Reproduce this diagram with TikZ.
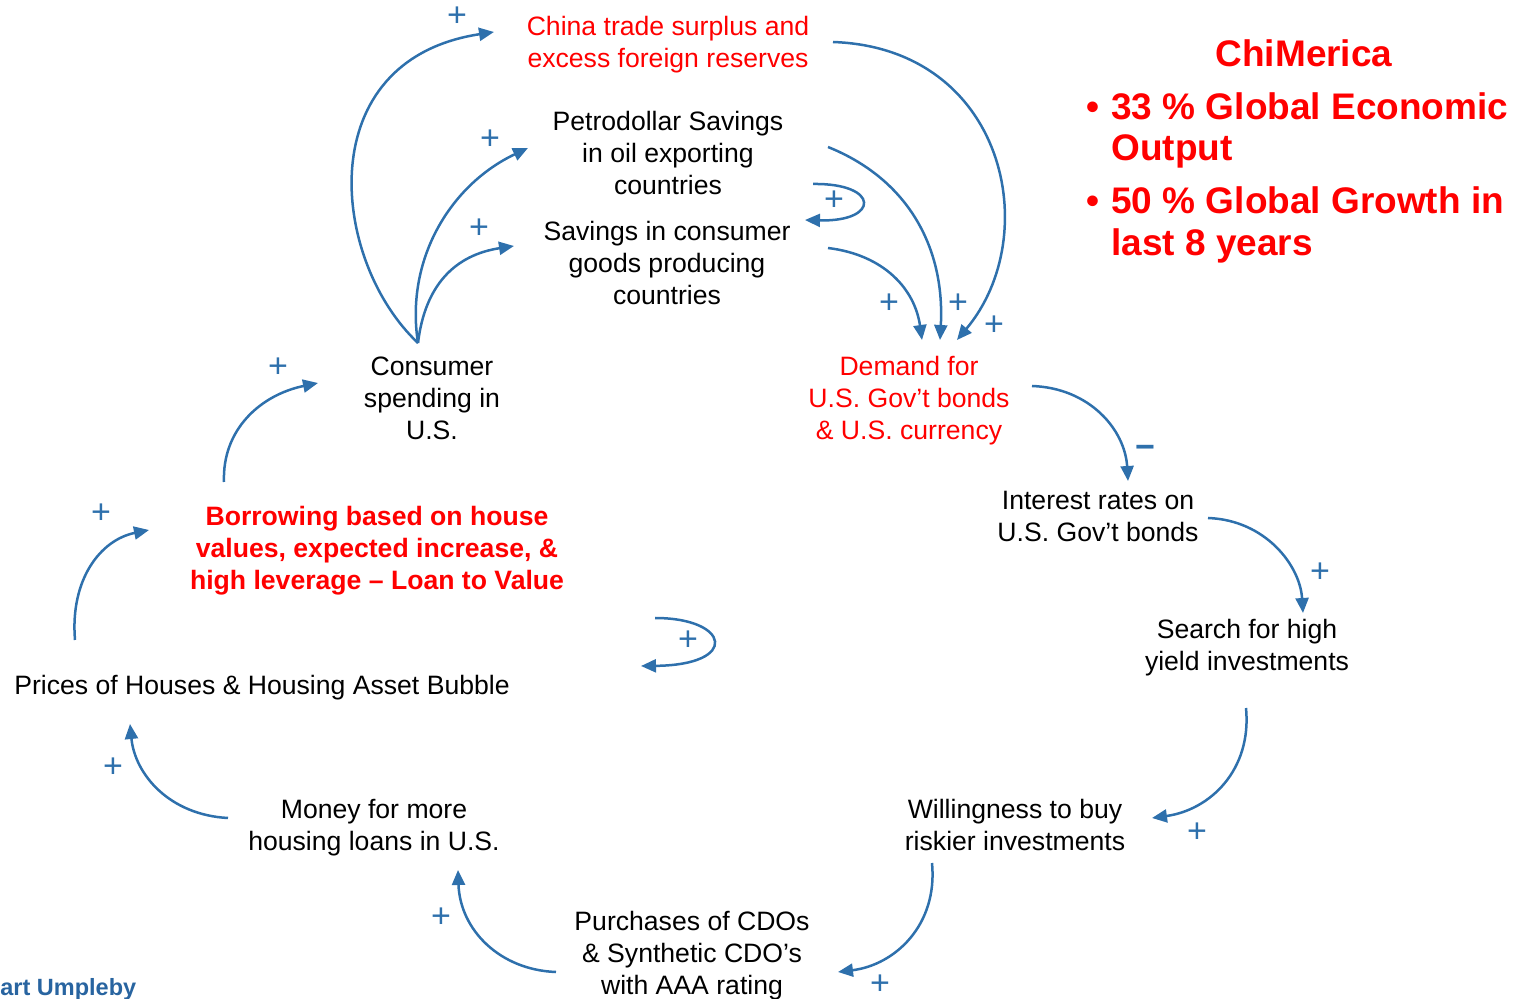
\documentclass[tikz,border=0pt]{standalone}
\usepackage{fontspec}
\setmainfont{Liberation Sans}
\usetikzlibrary{arrows.meta}
\definecolor{linkblue}{RGB}{46,112,172}
\definecolor{hotred}{RGB}{255,0,0}
\definecolor{creditblue}{RGB}{40,100,160}
\begin{document}
\begin{tikzpicture}[x=0.5pt,y=-0.5pt,
  var/.style={align=center,inner sep=0pt,font=\fontsize{13.3}{16}\selectfont},
  keyvar/.style={var,text=hotred},
  boldvar/.style={var,text=hotred,font=\fontsize{13.3}{16}\selectfont\bfseries},
  link/.style={draw=linkblue,line width=1.25pt,-{Triangle[length=7.5pt,width=6.5pt]}},
  pol/.style={text=linkblue,inner sep=0pt,font=\fontsize{17}{18}\selectfont},
  note/.style={text=hotred,inner sep=0pt,anchor=base west,font=\fontsize{18.5}{21}\selectfont\bfseries}]
\useasboundingbox (0,0) rectangle (1521,999);

% variables of the loop
\node[keyvar] (china) at (668,45) {China trade surplus and\\excess foreign reserves};
\node[var] (petro) at (668,153) {Petrodollar Savings\\in oil exporting\\countries};
\node[var] (goods) at (667,263) {Savings in consumer\\goods producing\\countries};
\node[var] (cons) at (432,398) {Consumer\\spending in\\U.S.};
\node[keyvar] (demand) at (909,401) {Demand for\\U.S. Gov't bonds\\\& U.S. currency};
\node[var] (rates) at (1098,516) {Interest rates on\\U.S. Gov't bonds};
\node[var] (search) at (1247,648) {Search for high\\yield investments};
\node[var] (risk) at (1015,825) {Willingness to buy\\riskier investments};
\node[var] (cdo) at (692,956) {Purchases of CDOs\\\& Synthetic CDO's\\with AAA rating};
\node[var] (loans) at (374,828) {Money for more\\housing loans in U.S.};
\node[var] (houses) at (262,688) {Prices of Houses \& Housing Asset Bubble};
\node[boldvar] (borrow) at (377,551) {Borrowing based on house\\values, expected increase, \&\\high leverage -- Loan to Value};

% connector end points
\coordinate (cs-out) at (418,343);
\coordinate (china-in) at (494,32);
\coordinate (petro-in) at (528,148);
\coordinate (goods-in) at (514,246);
\coordinate (petro-out) at (828,147);
\coordinate (goods-out) at (828,248);
\coordinate (china-out) at (833,42);
\coordinate (dem-in1) at (922,340);
\coordinate (dem-in2) at (940,340);
\coordinate (dem-in3) at (957,340);
\coordinate (loopA-out) at (813,184);
\coordinate (loopA-in) at (805,220);
\coordinate (dem-out) at (1032,386);
\coordinate (rates-in) at (1128,481);
\coordinate (rates-out) at (1208,518);
\coordinate (search-in) at (1303,613);
\coordinate (search-out) at (1246,708);
\coordinate (risk-in) at (1152,818);
\coordinate (risk-out) at (932,863);
\coordinate (cdo-in) at (838,972);
\coordinate (cdo-out) at (556,972);
\coordinate (loans-in) at (458,870);
\coordinate (loans-out) at (228,818);
\coordinate (houses-in) at (130,724);
\coordinate (houses-out) at (75,640);
\coordinate (borrow-in) at (149,530);
\coordinate (borrow-out) at (224,482);
\coordinate (cons-in) at (318,383);
\coordinate (loopB-out) at (655,618);
\coordinate (loopB-in) at (641,666);

% causal links
\draw[link] (cs-out) .. controls (330,260) and (310,60) .. (china-in);
\draw[link] (cs-out) .. controls (405,260) and (450,185) .. (petro-in);
\draw[link] (cs-out) .. controls (425,285) and (455,255) .. (goods-in);
\draw[link] (petro-out) .. controls (910,180) and (945,250) .. (dem-in2);
\draw[link] (goods-out) .. controls (885,255) and (915,290) .. (dem-in1);
\draw[link] (china-out) .. controls (1005,48) and (1045,235) .. (dem-in3);
\draw[link] (loopA-out) .. controls (880,183) and (880,222) .. (loopA-in);
\draw[link] (dem-out) .. controls (1090,388) and (1125,430) .. (rates-in);
\draw[link] (rates-out) .. controls (1265,520) and (1300,565) .. (search-in);
\draw[link] (search-out) .. controls (1252,770) and (1210,810) .. (risk-in);
\draw[link] (risk-out) .. controls (938,925) and (895,965) .. (cdo-in);
\draw[link] (cdo-out) .. controls (500,970) and (460,930) .. (loans-in);
\draw[link] (loans-out) .. controls (170,815) and (135,775) .. (houses-in);
\draw[link] (houses-out) .. controls (70,580) and (100,540) .. (borrow-in);
\draw[link] (borrow-out) .. controls (222,430) and (260,395) .. (cons-in);
\draw[link] (loopB-out) .. controls (730,618) and (740,665) .. (loopB-in);

% link polarities
\node[pol] (p1) at (457,17) {+};
\node[pol] (p2) at (490,140) {+};
\node[pol] (p3) at (479,229) {+};
\node[pol] (p4) at (834,201) {+};
\node[pol] (p5) at (889,304) {+};
\node[pol] (p6) at (958,304) {+};
\node[pol] (p7) at (994,326) {+};
\node[pol,font=\fontsize{17}{18}\selectfont\bfseries] (p8) at (1145,452) {−};
\node[pol] (p9) at (1320,573) {+};
\node[pol] (p10) at (1197,833) {+};
\node[pol] (p11) at (880,985) {+};
\node[pol] (p12) at (441,918) {+};
\node[pol] (p13) at (113,768) {+};
\node[pol] (p14) at (101,514) {+};
\node[pol] (p15) at (278,368) {+};
\node[pol] (p16) at (688,641) {+};

% side notes
\node[text=hotred,inner sep=0pt,anchor=base,font=\fontsize{18.5}{21}\selectfont\bfseries] (title) at (1304,67) {ChiMerica};
\node[note] (b1) at (1086,120) {•};
\node[note] (n1) at (1111,120) {33 \% Global Economic};
\node[note] (n1b) at (1111,161) {Output};
\node[note] (b2) at (1086,214) {•};
\node[note] (n2) at (1111,214) {50 \% Global Growth in};
\node[note] (n2b) at (1111,256) {last 8 years};

\node[inner sep=0pt,anchor=base west,text=creditblue,font=\fontsize{11.75}{14}\selectfont\bfseries] (credit) at (0,995) {art Umpleby};
\end{tikzpicture}
\end{document}
